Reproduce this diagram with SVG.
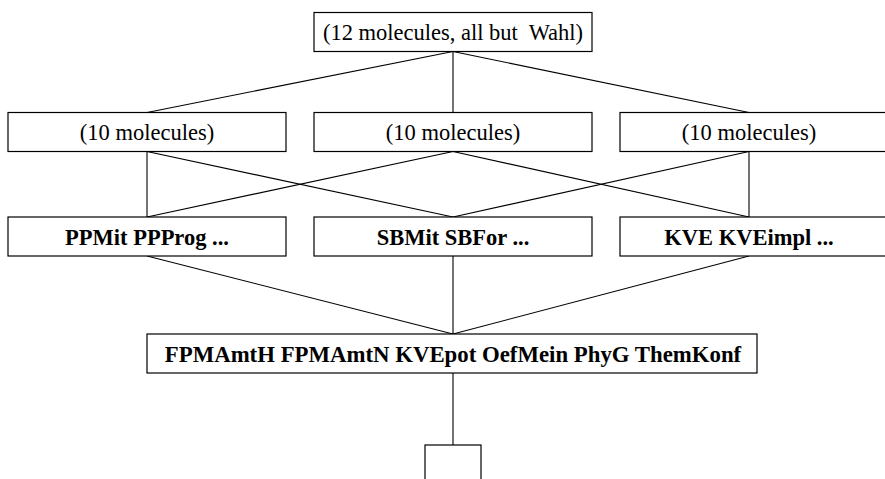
<svg xmlns="http://www.w3.org/2000/svg" width="885" height="479" viewBox="0 0 885 479">
  <style>
    .box { fill: #ffffff; stroke: #000000; stroke-width: 1.2; }
    .edge { fill: none; stroke: #000000; stroke-width: 1.1; }
    text { font-size: 22.5px; fill: #000000; text-anchor: middle; }
    .bold { font-weight: bold; }
    .wide { font-size: 22.8px; }
  </style>
  <rect width="885" height="479" fill="#ffffff"/>

  <!-- connectors -->
  <g id="edges">
    <line class="edge" x1="453" y1="51.5" x2="147" y2="112.5"/>
    <line class="edge" x1="453" y1="51.5" x2="453" y2="112.5"/>
    <line class="edge" x1="453" y1="51.5" x2="749" y2="112.5"/>

    <line class="edge" x1="147" y1="151.5" x2="147" y2="217"/>
    <line class="edge" x1="147" y1="151.5" x2="453" y2="217"/>
    <line class="edge" x1="453" y1="151.5" x2="147" y2="217"/>
    <line class="edge" x1="453" y1="151.5" x2="749" y2="217"/>
    <line class="edge" x1="749" y1="151.5" x2="453" y2="217"/>
    <line class="edge" x1="749" y1="151.5" x2="749" y2="217"/>

    <line class="edge" x1="147" y1="256" x2="453" y2="334"/>
    <line class="edge" x1="453" y1="256" x2="453" y2="334"/>
    <line class="edge" x1="749" y1="256" x2="453" y2="334"/>

    <line class="edge" x1="453" y1="373" x2="453" y2="445"/>
  </g>

  <!-- top -->
  <g id="n_all12">
    <rect class="box" x="314" y="12.5" width="278" height="39"/>
    <text font-family="Times New Roman, Liberation Serif, serif" x="453" y="40" xml:space="preserve">(12 molecules, all but  Wahl)</text>
  </g>

  <!-- second row -->
  <g id="n_ten_a">
    <rect class="box" x="8" y="112.5" width="278" height="39"/>
    <text font-family="Times New Roman, Liberation Serif, serif" x="147" y="140">(10 molecules)</text>
  </g>
  <g id="n_ten_b">
    <rect class="box" x="314" y="112.5" width="278" height="39"/>
    <text font-family="Times New Roman, Liberation Serif, serif" x="453" y="140">(10 molecules)</text>
  </g>
  <g id="n_ten_c">
    <rect class="box" x="620" y="112.5" width="278" height="39"/>
    <text font-family="Times New Roman, Liberation Serif, serif" x="749" y="140">(10 molecules)</text>
  </g>

  <!-- third row -->
  <g id="n_pp">
    <rect class="box" x="8" y="217" width="278" height="39"/>
    <text class="bold" font-family="Times New Roman, Liberation Serif, serif" x="147" y="244.5">PPMit PPProg ...</text>
  </g>
  <g id="n_sb">
    <rect class="box" x="314" y="217" width="278" height="39"/>
    <text class="bold" font-family="Times New Roman, Liberation Serif, serif" x="453" y="244.5">SBMit SBFor ...</text>
  </g>
  <g id="n_kve">
    <rect class="box" x="620" y="217" width="278" height="39"/>
    <text class="bold" font-family="Times New Roman, Liberation Serif, serif" x="749" y="244.5">KVE KVEimpl ...</text>
  </g>

  <!-- common core -->
  <g id="n_core">
    <rect class="box" x="147" y="334" width="610" height="39"/>
    <text class="bold wide" font-family="Times New Roman, Liberation Serif, serif" x="453" y="361.5">FPMAmtH FPMAmtN KVEpot OefMein PhyG ThemKonf</text>
  </g>

  <!-- empty bottom node -->
  <g id="n_bottom">
    <rect class="box" x="425" y="445" width="56" height="40"/>
  </g>
</svg>
